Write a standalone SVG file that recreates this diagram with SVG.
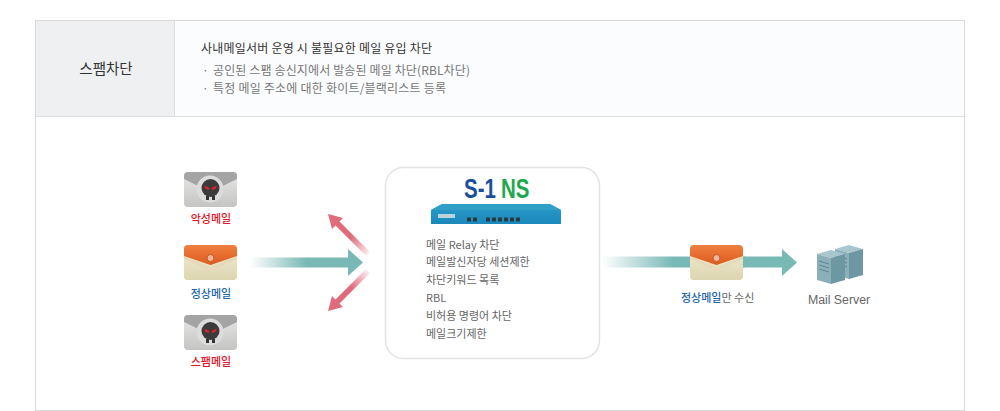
<svg xmlns="http://www.w3.org/2000/svg" width="1000" height="411" viewBox="0 0 1000 411">
<style>
text{font-family:"Noto Sans CJK KR","Liberation Sans",sans-serif;font-size:11px;fill:#666}
.c{text-anchor:middle}
.red{fill:#e0142a;font-weight:500}
.blue{fill:#1f66a8;font-weight:500}
.h{font-size:12px}
</style>
<defs>
<linearGradient id="teal" x1="0" x2="1" y1="0" y2="0"><stop offset="0" stop-color="#78b9b6" stop-opacity="0"/><stop offset=".5" stop-color="#78b9b6"/></linearGradient>
<linearGradient id="pink" gradientUnits="userSpaceOnUse" x1="370" y1="256" x2="328" y2="214"><stop offset="0" stop-color="#e06b7b" stop-opacity="0"/><stop offset=".45" stop-color="#e06b7b"/></linearGradient>
<linearGradient id="greyBody" x1="0" x2="0" y1="0" y2="1"><stop offset="0" stop-color="#e8e8e6"/><stop offset="1" stop-color="#c4c4c2"/></linearGradient>
<linearGradient id="creamBody" x1="0" x2="0" y1="0" y2="1"><stop offset="0" stop-color="#f3efd8"/><stop offset="1" stop-color="#dcd5af"/></linearGradient>
<linearGradient id="orangeFlap" x1="0" x2="0" y1="0" y2="1"><stop offset="0" stop-color="#f08040"/><stop offset="1" stop-color="#dc5a1e"/></linearGradient>
<linearGradient id="blueBox" x1="0" x2="0" y1="0" y2="1"><stop offset="0" stop-color="#2a9cc8"/><stop offset="1" stop-color="#1a88bc"/></linearGradient>
<path id="pinkArrow" d="M328 214L343 218L339.500 221.500L370 252L366 256L335.500 225.500L332 229z" fill="url(#pink)"/>
<g id="badMail">
<rect x="0" y="0" width="53" height="35" rx="4" fill="url(#greyBody)"/>
<path d="M0 4a4 4 0 0 1 4-4h45a4 4 0 0 1 4 4v3L26.500 20L0 7z" fill="#a4a4a4"/>
<circle cx="26" cy="17" r="13.500" fill="#dcdcdc"/>
<path d="M22 24v4h3v-4zM28 24v4h3v-4z" fill="#333"/>
<circle cx="26.500" cy="16" r="9" fill="#3d3a3c"/>
<path d="M20.500 13.500l5 2.500-1 2-3.500-1.500zM32.500 13.500l-5 2.500 1 2 3.500-1.500z" fill="#d8232a"/>
</g>
<g id="goodMail">
<rect x="0" y="0" width="53" height="35" rx="4" fill="url(#creamBody)"/>
<path d="M0 11L26.500 23L53 11v3L26.500 26L0 14z" fill="#e6d9b8"/>
<path d="M0 4a4 4 0 0 1 4-4h45a4 4 0 0 1 4 4v7L26.500 20L0 11z" fill="url(#orangeFlap)"/>
<circle cx="26.500" cy="13" r="3.500" fill="#eeb59a" stroke="#c9582a"/>
</g>
<g id="srv">
<path d="M0 8L14 4L28 8L14 12z" fill="#a9c6ce"/>
<path d="M0 8L14 12V38L0 34z" fill="#8bb0ba"/>
<path d="M14 12L28 8V34L14 38z" fill="#6d97a3"/>
<path d="M2 15l10 3M2 19l10 3M2 23l10 3" stroke="#5f8794" stroke-width="1"/>
</g>
</defs>
<rect width="1000" height="411" fill="#fff"/>
<g id="frame">
<rect x="35.500" y="20.500" width="929" height="390" fill="#fff" stroke="#d9d9d9"/>
<rect x="36" y="21" width="138" height="95" fill="#eef0f1"/>
<rect x="175" y="21" width="789" height="95" fill="#fbfcfd"/>
<path d="M174.500 21v95M36 116.500h928" stroke="#dcdfe0" fill="none"/>
</g>
<g id="header">
<text class="c" x="106" y="74" style="font-size:14.500px;fill:#333">스팸차단</text>
<text class="h" x="201" y="52.500" style="fill:#333" textLength="231">사내메일서버 운영 시 불필요한 메일 유입 차단</text>
<text class="h" x="202" y="75" style="fill:#777">·</text>
<text class="h" x="213" y="75" style="fill:#777" textLength="257">공인된 스팸 송신지에서 발송된 메일 차단(RBL차단)</text>
<text class="h" x="202" y="93" style="fill:#777">·</text>
<text class="h" x="213" y="93" style="fill:#777" textLength="233">특정 메일 주소에 대한 화이트/블랙리스트 등록</text>
</g>
<g id="connectors">
<path d="M250 257.500H348V249L363 262.500L348 276V267.500H250z" fill="url(#teal)"/>
<use href="#pinkArrow"/>
<use href="#pinkArrow" transform="matrix(1 0 0 -1 0 525)"/>
<path d="M602 256.500H745V267.500H602z" fill="url(#teal)"/>
<path d="M740 256.500H782V249L797 262.500L782 276V267.500H740z" fill="#78b9b6"/>
</g>
<g id="mail-malicious">
<use href="#badMail" x="184" y="172"/>
<text class="c red" x="211" y="223">악성메일</text>
</g>
<g id="mail-normal">
<use href="#goodMail" x="184" y="245"/>
<text class="c blue" x="211" y="298">정상메일</text>
</g>
<g id="mail-spam">
<use href="#badMail" x="184" y="315"/>
<text class="c red" x="211" y="366">스팸메일</text>
</g>
<g id="s1ns">
<rect x="385.500" y="167.500" width="214" height="191" rx="18" fill="#fff" stroke="#e2e4e4" stroke-width="1.500"/>
<text transform="translate(464 198) scale(.76 1)" style="font-family:'Liberation Sans',sans-serif;font-size:27px;font-weight:bold;fill:#1b4f9c">S-1</text>
<text transform="translate(501 198) scale(.76 1)" style="font-family:'Liberation Sans',sans-serif;font-size:27px;font-weight:bold;fill:#1fa84f">NS</text>
<path d="M431 210L442 204H550L561 210V224H431z" fill="url(#blueBox)"/>
<path d="M431 210L442 204H550L561 210z" fill="#2f9fc6"/>
<rect x="438" y="214" width="17" height="4" fill="#b9d3dd"/>
<path d="M467 219.500h11M486 219.500h36" stroke="#2a3a40" stroke-width="4" stroke-dasharray="4 2" fill="none"/>
<g>
<text x="426" y="248.500">메일 Relay 차단</text>
<text x="426" y="266">메일발신자당 세션제한</text>
<text x="426" y="284">차단키워드 목록</text>
<text x="426" y="302">RBL</text>
<text x="426" y="320">비허용 명령어 차단</text>
<text x="426" y="338">메일크기제한</text>
</g>
</g>
<g id="mail-passed">
<use href="#goodMail" x="690" y="245"/>
<text x="681" y="302"><tspan class="blue">정상메일</tspan>만 수신</text>
</g>
<g id="mail-server">
<use href="#srv" x="835" y="241"/>
<use href="#srv" x="817" y="246"/>
<text class="c" x="839" y="304" style="font-family:'Liberation Sans',sans-serif;font-size:12.300px">Mail Server</text>
</g>
</svg>
